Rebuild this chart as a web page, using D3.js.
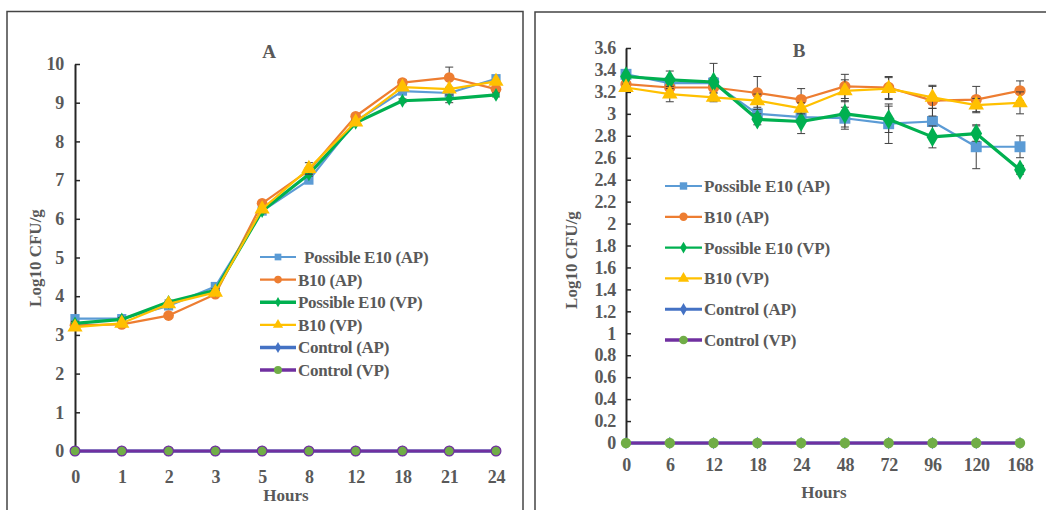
<!DOCTYPE html>
<html><head><meta charset="utf-8">
<script src="https://cdn.jsdelivr.net/npm/d3@7"></script>
<style>
html,body{margin:0;padding:0;background:#fff;}
svg{display:block;}
text{font-family:"Liberation Serif","Times New Roman",serif;font-weight:bold;fill:#595959;}
</style></head>
<body>
<svg id="c" width="1046" height="510"></svg>
<script>
// ---------- DATA ----------
const seriesNames = ["Possible E10 (AP)", "B10 (AP)", "Possible E10 (VP)", "B10 (VP)", "Control (AP)", "Control (VP)"];

// Panel A
const hoursA = ["0", "1", "2", "3", "5", "8", "12", "18", "21", "24"];
const yTicksA = [0, 1, 2, 3, 4, 5, 6, 7, 8, 9, 10];
const e10apA = [3.42, 3.42, 3.75, 4.25, 6.2, 7.0, 8.52, 9.3, 9.25, 9.62];
const b10apA = [3.25, 3.27, 3.5, 4.05, 6.4, 7.25, 8.65, 9.52, 9.65, 9.35];
const e10vpA = [3.3, 3.4, 3.85, 4.15, 6.2, 7.15, 8.48, 9.05, 9.1, 9.2];
const b10vpA = [3.2, 3.3, 3.8, 4.1, 6.25, 7.3, 8.5, 9.4, 9.35, 9.55];
const ctrlapA = [0, 0, 0, 0, 0, 0, 0, 0, 0, 0];
const ctrlvpA = [0, 0, 0, 0, 0, 0, 0, 0, 0, 0];
const errE10apA = [0.05, 0.05, 0.05, 0.05, 0.05, 0.05, 0.05, 0.05, 0.05, 0.05];
const errB10apA = [0.05, 0.05, 0.05, 0.05, 0.05, 0.05, 0.05, 0.08, 0.27, 0.05];
const errE10vpA = [0.05, 0.05, 0.05, 0.05, 0.05, 0.05, 0.05, 0.05, 0.1, 0.05];
const errB10vpA = [0.05, 0.05, 0.05, 0.05, 0.05, 0.15, 0.05, 0.05, 0.05, 0.05];

// Panel B
const hoursB = ["0", "6", "12", "18", "24", "48", "72", "96", "120", "168"];
const yTicksB = [0, 0.2, 0.4, 0.6, 0.8, 1, 1.2, 1.4, 1.6, 1.8, 2, 2.2, 2.4, 2.6, 2.8, 3, 3.2, 3.4, 3.6];
const e10apB = [3.36, 3.28, 3.28, 3.0, 2.97, 2.96, 2.91, 2.93, 2.7, 2.7];
const b10apB = [3.27, 3.24, 3.24, 3.19, 3.13, 3.25, 3.24, 3.12, 3.13, 3.21];
const e10vpB = [3.34, 3.31, 3.29, 2.95, 2.93, 3.0, 2.95, 2.79, 2.82, 2.49];
const b10vpB = [3.24, 3.18, 3.15, 3.12, 3.05, 3.21, 3.23, 3.15, 3.08, 3.1];
const ctrlapB = [0, 0, 0, 0, 0, 0, 0, 0, 0, 0];
const ctrlvpB = [0, 0, 0, 0, 0, 0, 0, 0, 0, 0];
const errE10apB = [0.03, 0.05, 0.05, 0.04, 0.04, 0.1, 0.18, 0.12, 0.2, 0.1];
const errB10apB = [0.03, 0.05, 0.05, 0.15, 0.1, 0.11, 0.1, 0.14, 0.12, 0.09];
const errE10vpB = [0.03, 0.08, 0.17, 0.05, 0.11, 0.12, 0.12, 0.1, 0.07, 0.04];
const errB10vpB = [0.03, 0.07, 0.04, 0.06, 0.05, 0.1, 0.1, 0.1, 0.06, 0.1];

// ---------- STYLES ----------
const styles = [
  {line: "#5B9BD5", fill: "#5B9BD5", stroke: "none", sym: d3.symbolSquare, lw: 2.2},
  {line: "#ED7D31", fill: "#ED7D31", stroke: "none", sym: d3.symbolCircle, lw: 2.2},
  {line: "#00B050", fill: "#00B050", stroke: "none", sym: d3.symbolDiamond, lw: 3.2},
  {line: "#FFC000", fill: "#FFC000", stroke: "none", sym: d3.symbolTriangle, lw: 2.2},
  {line: "#4472C4", fill: "#4472C4", stroke: "none", sym: d3.symbolDiamond, lw: 3},
  {line: "#7030A0", fill: "#70AD47", stroke: "#7030A0", sym: d3.symbolCircle, lw: 3}
];

const svg = d3.select("#c");

function panel(cfg) {
  const g = svg.append("g");
  // frame
  g.append("rect").attr("x", cfg.frame[0]).attr("y", cfg.frame[1])
    .attr("width", cfg.frame[2]).attr("height", cfg.frame[3])
    .attr("fill", "none").attr("stroke", "#444").attr("stroke-width", 1.5);

  const x = d3.scalePoint().domain(cfg.cats).range(cfg.xr);
  const y = d3.scaleLinear().domain(cfg.yd).range(cfg.yr);

  // y axis
  const ya = g.append("g").attr("transform", `translate(${cfg.xr[0]},0)`)
    .call(d3.axisLeft(y).tickValues(cfg.yticks).tickSizeInner(-5).tickSizeOuter(0)
      .tickPadding(cfg.ypad).tickFormat(d => String(+d.toFixed(1))));
  ya.select(".domain").attr("stroke", "#262626").attr("stroke-width", 2);
  ya.selectAll(".tick line").attr("stroke", "#262626").attr("stroke-width", 1.5);
  ya.selectAll(".tick text").style("font-size", cfg.fs + "px").style("letter-spacing", "-0.3px").attr("fill", "#595959");

  // x axis labels
  const xa = g.append("g").attr("transform", `translate(0,${cfg.yr[0]})`)
    .call(d3.axisBottom(x).tickSize(0).tickPadding(cfg.xpad));
  xa.select(".domain").attr("stroke", "#262626").attr("stroke-width", 1.5);
  xa.selectAll(".tick text").style("font-size", cfg.fs + "px").style("letter-spacing", "-0.3px").attr("fill", "#595959");

  // titles
  g.append("text").attr("x", cfg.title[1]).attr("y", cfg.title[2]).attr("text-anchor", "middle")
    .style("font-size", "19px").text(cfg.title[0]);
  g.append("text").attr("x", cfg.hours[0]).attr("y", cfg.hours[1]).attr("text-anchor", "middle")
    .style("font-size", "17px").text("Hours");
  g.append("text").attr("transform", `translate(${cfg.ylab[0]},${cfg.ylab[1]}) rotate(-90)`)
    .attr("text-anchor", "middle").style("font-size", "17px").text("Log10  CFU/g");

  // series
  const line = d3.line().x((d, i) => x(cfg.cats[i])).y(d => y(d));
  cfg.series.forEach((vals, si) => {
    const st = styles[si];
    const err = cfg.errs[si];
    const sg = g.append("g");
    if (err) {
      vals.forEach((v, i) => {
        const cx = x(cfg.cats[i]);
        sg.append("line").attr("x1", cx).attr("x2", cx).attr("y1", y(v - err[i])).attr("y2", y(v + err[i]))
          .attr("stroke", "#404040").attr("stroke-width", 1);
        [v - err[i], v + err[i]].forEach(e => sg.append("line").attr("x1", cx - 4).attr("x2", cx + 4)
          .attr("y1", y(e)).attr("y2", y(e)).attr("stroke", "#404040").attr("stroke-width", 1));
      });
    }
    sg.append("path").datum(vals).attr("d", line).attr("fill", "none")
      .attr("stroke", st.line).attr("stroke-width", st.lw).attr("stroke-linejoin", "round");
    sg.selectAll("path.m").data(vals).join("path").attr("class", "m")
      .attr("transform", (d, i) => `translate(${x(cfg.cats[i])},${y(d)})`)
      .attr("d", d3.symbol().type(st.sym).size(cfg.msize[si]))
      .attr("fill", st.fill).attr("stroke", cfg.mstroke && st.stroke !== "none" ? st.stroke : "none")
      .attr("stroke-width", 1.2);
  });

  // legend
  seriesNames.forEach((name, si) => {
    const st = styles[si];
    const ly = cfg.leg.y0 + si * cfg.leg.dy;
    const lx = cfg.leg.x0;
    g.append("line").attr("x1", lx).attr("x2", lx + cfg.leg.len).attr("y1", ly).attr("y2", ly)
      .attr("stroke", st.line).attr("stroke-width", cfg.leg.lw[si]);
    g.append("path").attr("transform", `translate(${lx + cfg.leg.len / 2},${ly})`)
      .attr("d", d3.symbol().type(st.sym).size(cfg.leg.ms[si])).attr("fill", st.fill);
    g.append("text").attr("x", lx + cfg.leg.len + 2 + (si === 0 ? cfg.leg.firstShift : 0)).attr("y", ly + 6)
      .style("font-size", cfg.leg.fs + "px").style("letter-spacing", cfg.leg.ls + "px").text(name);
  });
}

panel({
  frame: [7, 11.5, 516, 510],
  cats: hoursA, xr: [75, 496], yd: [0, 10], yr: [451, 64], yticks: yTicksA,
  ypad: 11, xpad: 19, fs: 18,
  title: ["A", 269, 58], hours: [286, 501], ylab: [41, 258],
  series: [e10apA, b10apA, e10vpA, b10vpA, ctrlapA, ctrlvpA],
  errs: [errE10apA, errB10apA, errE10vpA, errB10vpA, null, null],
  msize: [85, 90, 55, 100, 35, 75], mstroke: true,
  leg: {x0: 260, y0: 257, dy: 22.6, len: 36, fs: 17, ls: -0.3, firstShift: 6,
        lw: [2.2, 2.2, 3.5, 2.2, 3.5, 3.5], ms: [45, 45, 30, 45, 35, 50]}
});

panel({
  frame: [535, 12, 530, 510],
  cats: hoursB, xr: [626, 1020], yd: [0, 3.6], yr: [443, 48], yticks: yTicksB,
  ypad: 10, xpad: 15, fs: 18,
  title: ["B", 799, 57], hours: [824, 498], ylab: [577, 260],
  series: [e10apB, b10apB, e10vpB, b10vpB, ctrlapB, ctrlvpB],
  errs: [errE10apB, errB10apB, errE10vpB, errB10vpB, null, null],
  msize: [120, 100, 120, 105, 45, 85], mstroke: false,
  leg: {x0: 665, y0: 186, dy: 30.8, len: 37, fs: 17, ls: -0.2, firstShift: 0,
        lw: [2.2, 2.2, 2.2, 2.2, 3, 3.5], ms: [55, 55, 40, 55, 45, 60]}
});
</script>
</body></html>
